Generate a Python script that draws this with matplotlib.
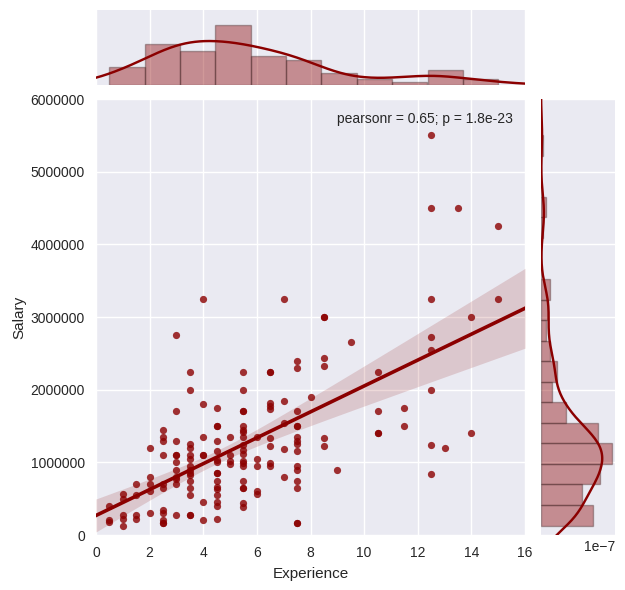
import numpy as np
import matplotlib.pyplot as plt

plt.rcParams['font.family'] = ['Liberation Sans', 'DejaVu Sans']

# values, grouped by experience level
experience = (
    [0.5] * 3 + [1] * 5 + [1.5] * 4 + [2] * 5 + [2.5] * 11 + [3] * 11
    + [3.5] * 15 + [4] * 7 + [4.5] * 16 + [5] * 4 + [5.5] * 19 + [6] * 5
    + [6.5] * 9 + [7] * 5 + [7.5] * 15 + [8] * 1 + [8.5] * 6 + [9] * 1
    + [9.5] * 1 + [10.5] * 4 + [11.5] * 2 + [12.5] * 8 + [13] * 1
    + [13.5] * 1 + [14] * 2 + [15] * 2
)
salary = [
    400000, 180000, 200000,
    560000, 500000, 270000, 220000, 130000,
    700000, 550000, 280000, 220000,
    1200000, 800000, 700000, 600000, 300000,
    1450000, 1350000, 1300000, 1100000, 700000, 650000, 350000, 300000, 200000, 170000, 170000,
    2750000, 1700000, 1300000, 1100000, 1100000, 1000000, 900000, 800000, 770000, 700000, 280000,
    2250000, 2000000, 1250000, 1200000, 1100000, 1050000, 950000, 900000, 850000, 820000,
    750000, 650000, 550000, 280000, 280000,
    3250000, 1800000, 1350000, 1100000, 1100000, 450000, 200000,
    1750000, 1500000, 1500000, 1300000, 1150000, 1030000, 1000000, 850000, 850000, 750000,
    660000, 630000, 550000, 450000, 400000, 220000,
    1350000, 1100000, 1020000, 980000,
    2250000, 2000000, 1700000, 1700000, 1500000, 1450000, 1420000, 1350000, 1240000, 1170000,
    1120000, 1020000, 990000, 950000, 740000, 650000, 650000, 440000, 390000,
    1350000, 1040000, 950000, 600000, 560000,
    2250000, 2250000, 1820000, 1770000, 1740000, 1340000, 1220000, 990000, 950000,
    3250000, 1840000, 1540000, 1190000, 800000,
    2400000, 2300000, 1700000, 1500000, 1500000, 1350000, 1300000, 1250000, 1150000, 950000,
    900000, 750000, 650000, 170000, 170000,
    1900000,
    3000000, 3000000, 2430000, 2330000, 1340000, 1230000,
    900000,
    2650000,
    2240000, 1700000, 1400000, 1400000,
    1750000, 1500000,
    5500000, 4500000, 3250000, 2730000, 2540000, 2000000, 1240000, 840000,
    1200000,
    4500000,
    3000000, 1400000,
    4250000, 3250000,
]

x_ticks = [0, 2, 4, 6, 8, 10, 12, 14, 16]
y_ticks = [0, 1000000, 2000000, 3000000, 4000000, 5000000, 6000000]
stat_label = 'pearsonr = 0.65; p = 1.8e-23'

color = '#8b0000'
bar_face = (0.545, 0.0, 0.0, 0.4)
bar_edge = (0.2, 0.1, 0.1, 0.35)
bg = '#EAEAF2'
text_c = '#262626'

x = np.array(experience, float)
y = np.array(salary, float)


def kde(values, grid):
    n = len(values)
    iqr = np.subtract(*np.percentile(values, [75, 25]))
    bw = 1.059 * min(values.std(ddof=1), iqr / 1.349) * n ** -0.2
    z = (grid[:, None] - values[None, :]) / bw
    return np.exp(-0.5 * z ** 2).sum(1) / (n * bw * np.sqrt(2 * np.pi))


def style(a):
    a.set_facecolor(bg)
    for s in a.spines.values():
        s.set_visible(False)
    a.tick_params(length=0, labelsize=10, colors=text_c, pad=8)
    a.set_axisbelow(True)


fig = plt.figure(figsize=(6.25, 5.9), dpi=100)
ax = fig.add_axes([0.1536, 0.0932, 0.6864, 0.739])
ax_top = fig.add_axes([0.1536, 0.8559, 0.6864, 0.127], sharex=ax)
ax_right = fig.add_axes([0.8656, 0.0932, 0.1184, 0.739], sharey=ax)
for a in (ax, ax_top, ax_right):
    style(a)

# regression line + 95% band (heteroscedasticity-robust)
X = np.column_stack([np.ones_like(x), x])
beta = np.linalg.lstsq(X, y, rcond=None)[0]
resid = y - X @ beta
XtX_inv = np.linalg.inv(X.T @ X)
cov = XtX_inv @ (X.T * resid ** 2) @ X @ XtX_inv
grid = np.linspace(0, 16, 200)
G = np.column_stack([np.ones_like(grid), grid])
fit = G @ beta
se = np.sqrt(np.einsum('ij,jk,ik->i', G, cov, G))
ax.fill_between(grid, fit - 1.96 * se, fit + 1.96 * se, color=color, alpha=0.15, linewidth=0)
ax.scatter(x, y, s=27, color=color, alpha=0.8, linewidths=0)
ax.plot(grid, fit, color=color, linewidth=2.6)

ax.set_xlim(0, 16)
ax.set_ylim(0, 6000000)
ax.set_xticks(x_ticks)
ax.set_yticks(y_ticks)
ax.ticklabel_format(style='plain', useOffset=False)
ax.grid(True, color='white', linewidth=1)
ax.set_xlabel('Experience', fontsize=11, color=text_c, labelpad=5)
ax.set_ylabel('Salary', fontsize=11, color=text_c, labelpad=3)
ax.text(0.972, 0.954, stat_label, transform=ax.transAxes, ha='right', va='center',
        fontsize=10, color=text_c)

# top marginal
counts, _, _ = ax_top.hist(x, bins=11, density=True, facecolor=bar_face,
                           edgecolor=bar_edge, linewidth=1)
gx = np.linspace(-1, 17, 300)
ax_top.plot(gx, kde(x, gx), color=color, linewidth=1.75)
ax_top.set_ylim(0, counts.max() / 0.8)
ax_top.xaxis.grid(True, color='white', linewidth=1)
ax_top.yaxis.grid(False)
ax_top.tick_params(labelbottom=False, labelleft=False)

# right marginal
counts_y, _, _ = ax_right.hist(y, bins=19, density=True, orientation='horizontal',
                               facecolor=bar_face, edgecolor=bar_edge, linewidth=1)
gy = np.linspace(-1000000, 7000000, 300)
ax_right.plot(kde(y, gy), gy, color=color, linewidth=1.75)
ax_right.set_xlim(0, counts_y.max() / 0.955)
ax_right.yaxis.grid(True, color='white', linewidth=1)
ax_right.xaxis.grid(False)
ax_right.tick_params(labelbottom=False, labelleft=False)
ax_right.text(1.0, -0.012, '1e\u22127', transform=ax_right.transAxes, ha='right', va='top',
              fontsize=10, color=text_c)

fig.savefig('out.png', dpi=100)
